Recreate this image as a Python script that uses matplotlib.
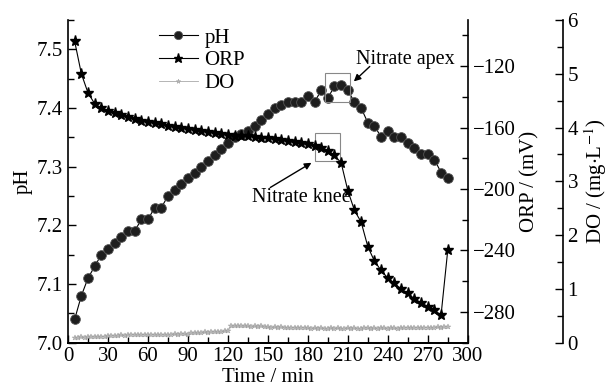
import matplotlib
matplotlib.use("Agg")
import matplotlib.pyplot as plt
from matplotlib.patches import Rectangle
from matplotlib.ticker import MultipleLocator

plt.rcParams['font.family'] = ['Liberation Serif', 'DejaVu Serif']
plt.rcParams['mathtext.fontset'] = 'stix'
FS = 15

# ---------------------------------------------------------------------------
# data
# ---------------------------------------------------------------------------
time = list(range(5, 290, 5))  # pH / ORP sampled every 5 min

ph = [7.04, 7.08, 7.11, 7.13, 7.15, 7.16, 7.17, 7.18, 7.19, 7.19,
      7.21, 7.21, 7.23, 7.23, 7.25, 7.26, 7.27, 7.28, 7.29, 7.30,
      7.31, 7.32, 7.33, 7.34, 7.35, 7.355, 7.36, 7.37, 7.38, 7.39,
      7.40, 7.405, 7.41, 7.41, 7.41, 7.42, 7.41, 7.43, 7.417, 7.437,
      7.44, 7.43, 7.41, 7.40, 7.375, 7.37, 7.35, 7.36, 7.35, 7.35,
      7.34, 7.332, 7.322, 7.322, 7.312, 7.29, 7.28]

orp = [-104, -125, -137.5, -144.5, -147.5, -149, -150.5, -152, -153, -154.5,
       -155.5, -156.3, -157, -158, -159, -159.6, -160.2, -160.8, -161.5, -162.3,
       -163, -163.5, -164.2, -164.8, -165.3, -165.5, -165.8, -166, -166.5, -167,
       -167.5, -168.3, -169, -169.5, -170.3, -171, -172, -173, -175, -178,
       -183, -201, -214, -221.5, -237.5, -247, -253, -258, -261.5, -265,
       -268, -271.5, -274, -276.5, -279, -282, -240]

do_time = [t / 2 for t in range(10, 571, 5)]  # DO sampled every 2.5 min
do = [0.09, 0.09, 0.10, 0.09, 0.10, 0.10, 0.11, 0.10, 0.11, 0.11, 0.12,
      0.13, 0.12, 0.13, 0.14, 0.13, 0.14, 0.15, 0.14, 0.15, 0.14, 0.15, 0.15,
      0.15, 0.14, 0.15, 0.15, 0.14, 0.15, 0.15, 0.16, 0.15, 0.16, 0.16, 0.15,
      0.17, 0.18, 0.17, 0.18, 0.19, 0.18, 0.19, 0.20, 0.19, 0.20, 0.21, 0.22,
      0.30, 0.31, 0.30, 0.31, 0.30, 0.30, 0.29, 0.30, 0.29, 0.30, 0.29, 0.29,
      0.28, 0.29, 0.28, 0.29, 0.28, 0.28, 0.27, 0.28, 0.27, 0.28, 0.27, 0.27,
      0.26, 0.27, 0.26, 0.27, 0.26, 0.26, 0.27, 0.26, 0.27, 0.26, 0.26, 0.27,
      0.26, 0.27, 0.26, 0.26, 0.27, 0.27, 0.26, 0.27, 0.26, 0.27, 0.27, 0.26,
      0.27, 0.27, 0.26, 0.27, 0.27, 0.28, 0.27, 0.27, 0.28, 0.27, 0.28, 0.28,
      0.28, 0.28, 0.29, 0.28, 0.29, 0.29]

# ---------------------------------------------------------------------------
# figure
# ---------------------------------------------------------------------------
fig = plt.figure(figsize=(6.13, 3.92), dpi=100)
ax = fig.add_axes([0.111, 0.126, 0.652, 0.823])
ax2 = ax.twinx()
ax3 = ax.twinx()
ax3.spines['right'].set_position(('axes', 1.2375))

l1, = ax.plot(time, ph, '-', color='black', lw=0.8, marker='o', ms=7,
              mfc='#1e1e1e', mec='#555555', mew=0.6, label='pH', zorder=3)
l2, = ax2.plot(time, orp, '-', color='black', lw=0.8, marker='*', ms=8,
               mfc='black', mec='black', label='ORP', zorder=3)
l3, = ax3.plot(do_time, do, '-', color='#a8a8a8', lw=0.6, marker='*', ms=4,
               mfc='#b8b8b8', mec='#989898', mew=0.3, label='DO', zorder=2)

ax.set_xlim(0, 300)
ax.set_ylim(7.0, 7.55)
ax2.set_ylim(-300, -90)
ax3.set_ylim(0, 6)

ax.xaxis.set_major_locator(MultipleLocator(30))
ax.xaxis.set_minor_locator(MultipleLocator(15))
ax.yaxis.set_major_locator(MultipleLocator(0.1))
ax.yaxis.set_minor_locator(MultipleLocator(0.05))
ax2.yaxis.set_major_locator(MultipleLocator(40))
ax2.yaxis.set_minor_locator(MultipleLocator(20))
ax3.yaxis.set_major_locator(MultipleLocator(1))
ax3.yaxis.set_minor_locator(MultipleLocator(0.5))
ax.set_yticks([7.0, 7.1, 7.2, 7.3, 7.4, 7.5])
ax.set_yticklabels(['7.0', '7.1', '7.2', '7.3', '7.4', '7.5'])
ax2.set_yticks([-280, -240, -200, -160, -120])
ax2.set_yticklabels(['\u2212280', '\u2212240', '\u2212200', '\u2212160', '\u2212120'])

for a in (ax, ax2, ax3):
    a.spines['top'].set_visible(False)
    for s in a.spines.values():
        s.set_linewidth(1.2)
    a.tick_params(which='both', direction='in', labelsize=FS, width=1.0)
    a.tick_params(which='major', length=6)
    a.tick_params(which='minor', length=4)
ax.spines['right'].set_visible(False)
ax3.spines['left'].set_visible(False)
ax2.spines['left'].set_visible(False)

ax.set_xlabel('Time / min', fontsize=FS, labelpad=1)
ax.set_ylabel('pH', fontsize=FS, labelpad=3)
ax2.set_ylabel('ORP / (mV)', fontsize=FS, labelpad=3)
ax3.set_ylabel('DO / (mg$\\cdot$L$^{-1}$)', fontsize=FS, labelpad=3)

# annotations
ax.add_patch(Rectangle((193, 7.411), 18.5, 0.048, fill=False, ec='#888888', lw=0.8, zorder=4))
ax.add_patch(Rectangle((185.5, 7.31), 18.5, 0.048, fill=False, ec='#888888', lw=0.8, zorder=4))
ax.text(253, 7.483, 'Nitrate apex', fontsize=FS - 0.5, ha='center', va='center')
ax.annotate('', xy=(213, 7.442), xytext=(228, 7.474),
            arrowprops=dict(arrowstyle='-|>', color='black', lw=1.0, mutation_scale=10))
ax.text(175, 7.247, 'Nitrate knee', fontsize=FS - 0.5, ha='center', va='center')
ax.annotate('', xy=(184.5, 7.309), xytext=(150, 7.262),
            arrowprops=dict(arrowstyle='-|>', color='black', lw=1.0, mutation_scale=10))

ax.legend([l1, l2, l3], ['pH', 'ORP', 'DO'], loc='upper left',
          bbox_to_anchor=(0.19, 1.02), frameon=False, fontsize=FS,
          handlelength=1.9, handletextpad=0.3, labelspacing=0.15, borderpad=0.2,
          markerscale=0.85)

fig.savefig('out.png', dpi=100, facecolor='white')
